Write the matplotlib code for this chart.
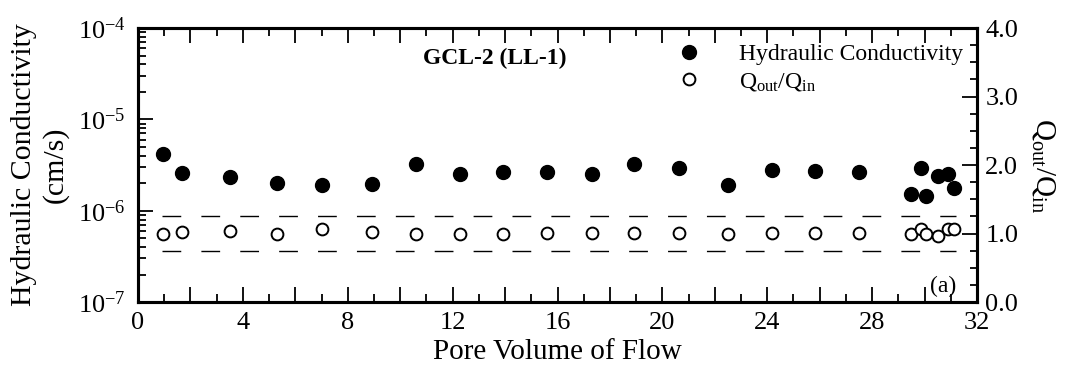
import math
import matplotlib
matplotlib.use('Agg')
import matplotlib.pyplot as plt
from matplotlib.ticker import MultipleLocator, LogLocator, FuncFormatter, NullFormatter
from matplotlib.lines import Line2D

plt.rcParams['font.family'] = 'Liberation Serif'
plt.rcParams['mathtext.fontset'] = 'custom'
plt.rcParams['mathtext.rm'] = 'Liberation Serif'
plt.rcParams['mathtext.it'] = 'Liberation Serif:italic'
plt.rcParams['mathtext.bf'] = 'Liberation Serif:bold'

# data
pore_volume = [0.97, 1.69, 3.51, 5.29, 7.03, 8.94, 10.6, 12.28, 13.93, 15.58, 17.3, 18.93,
               20.62, 22.5, 24.17, 25.82, 27.5, 29.5, 29.86, 30.04, 30.52, 30.88, 31.13]
hyd_cond = [4.2e-6, 2.57e-6, 2.32e-6, 2.0e-6, 1.9e-6, 1.94e-6, 3.22e-6, 2.5e-6, 2.65e-6,
            2.65e-6, 2.53e-6, 3.22e-6, 2.9e-6, 1.9e-6, 2.79e-6, 2.72e-6, 2.67e-6,
            1.51e-6, 2.95e-6, 1.45e-6, 2.42e-6, 2.5e-6, 1.75e-6]
q_ratio = [1.0, 1.02, 1.04, 1.0, 1.06, 1.02, 1.0, 1.0, 1.0, 1.01, 1.01, 1.01,
           1.01, 1.0, 1.01, 1.01, 1.01, 1.0, 1.06, 0.99, 0.96, 1.06, 1.06]
limit_x = [0.9, 31.2]
limits = [0.75, 1.25]

fig = plt.figure(figsize=(10.81, 3.73), dpi=100)
ax = fig.add_axes([0.1277, 0.1903, 0.7761, 0.7346])
ax2 = ax.twinx()

ax.semilogy(pore_volume, hyd_cond, 'o', color='black', markersize=10, zorder=3)
ax2.plot(pore_volume, q_ratio, 'o', mfc='white', mec='black', mew=1.4, markersize=8.5, zorder=3)
for lim in limits:
    ax2.plot(limit_x, [lim, lim], color='black', lw=1.0, dashes=(13.5, 14.5))

ax.set_xlim(0, 32)
ax.set_ylim(1e-7, 1e-4)
ax2.set_ylim(0, 4)

# x ticks: long every 2, labels every 4, short every 1
ax.xaxis.set_major_locator(MultipleLocator(2))
ax.xaxis.set_minor_locator(MultipleLocator(1))
ax.xaxis.set_major_formatter(FuncFormatter(lambda v, p: '%d' % v if int(round(v)) % 4 == 0 else ''))
ax.yaxis.set_major_locator(LogLocator(base=10))
ax.yaxis.set_minor_locator(LogLocator(base=10, subs=range(2, 10)))
ax.yaxis.set_minor_formatter(NullFormatter())
ax.yaxis.set_major_formatter(FuncFormatter(lambda v, p: r'$\mathregular{10^{%d}}$' % round(math.log10(v))))
ax2.yaxis.set_major_locator(MultipleLocator(1))
ax2.yaxis.set_minor_locator(MultipleLocator(0.25))
ax2.yaxis.set_major_formatter(FuncFormatter(lambda v, p: '%.1f' % v))

ax.tick_params(axis='x', which='both', direction='in', top=True, labelsize=19, pad=7)
ax.tick_params(axis='y', which='both', direction='in', right=False, labelsize=19, pad=9)
ax.tick_params(which='major', length=11, width=1.3)
ax.tick_params(which='minor', length=6, width=1.3)
ax2.tick_params(axis='y', which='both', direction='in', labelsize=19, pad=6)
ax2.tick_params(which='major', length=11, width=1.3)
ax2.tick_params(which='minor', length=5, width=1.3)

for a in (ax, ax2):
    for s in a.spines.values():
        s.set_linewidth(2.2)

ax.set_xlabel('Pore Volume of Flow', fontsize=21, labelpad=4)
ax.set_ylabel('Hydraulic Conductivity\n(cm/s)', fontsize=21.5, labelpad=6, linespacing=1.25)
ax2.set_ylabel(r'$\mathregular{Q_{out}/Q_{in}}$', fontsize=21, rotation=270, labelpad=28)

ax.text(0.425, 0.89, 'GCL-2 (LL-1)', transform=ax.transAxes, fontsize=17,
        fontweight='bold', ha='center', va='center')
ax.text(0.975, 0.02, '(a)', transform=ax.transAxes, fontsize=17, ha='right', va='bottom')

handles = [Line2D([], [], ls='none', marker='o', color='black', markersize=10),
           Line2D([], [], ls='none', marker='o', mfc='white', mec='black', mew=1.4, markersize=8.5)]
ax2.legend(handles, ['Hydraulic Conductivity', r'$\mathregular{Q_{out}/Q_{in}}$'],
           loc='upper right', bbox_to_anchor=(1.0, 0.995), frameon=False, fontsize=17,
           handletextpad=1.1, labelspacing=0.25, borderaxespad=0.2)

plt.savefig('out.png', dpi=100)
